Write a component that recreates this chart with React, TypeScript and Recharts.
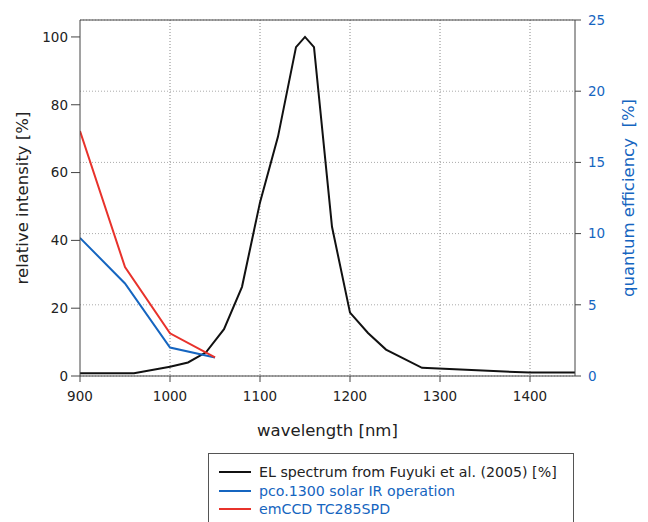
import React from 'react';
import { LineChart, Line, XAxis, YAxis, CartesianGrid, ReferenceLine, Legend, Label } from 'recharts';

const xTicks = [900, 1000, 1100, 1200, 1300, 1400];
const leftTicks = [0, 20, 40, 60, 80, 100];
const rightTicks = [0, 5, 10, 15, 20, 25];

const elWavelength = [900, 960, 1000, 1020, 1040, 1060, 1080, 1100, 1120, 1140, 1150, 1160, 1180, 1200, 1220, 1240, 1280, 1400, 1450];
const elIntensity = [0.8, 0.8, 2.7, 4.0, 7.0, 13.8, 26.3, 51.2, 70.6, 97.0, 100, 97.0, 44.0, 18.7, 12.7, 7.8, 2.4, 1.0, 1.0];

const qeWavelength = [900, 950, 1000, 1050];
const pcoQE = [9.7, 6.5, 2.0, 1.3];
const emccdQE = [17.2, 7.65, 3.0, 1.3];

const seriesNames = ['EL spectrum from Fuyuki et al. (2005) [%]', 'pco.1300 solar IR operation', 'emCCD TC285SPD'];

const BLACK = '#111111';
const BLUE = '#1565c0';
const RED = '#e8322b';
const FONT = '"DejaVu Sans", Verdana, sans-serif';

const elData = elWavelength.map((x, i) => ({ x, y: elIntensity[i] }));
const pcoData = qeWavelength.map((x, i) => ({ x, y: pcoQE[i] }));
const emData = qeWavelength.map((x, i) => ({ x, y: emccdQE[i] }));

const legendItems = [
  { name: seriesNames[0], color: BLACK, text: '#222' },
  { name: seriesNames[1], color: BLUE, text: BLUE },
  { name: seriesNames[2], color: RED, text: BLUE },
];

const LegendBox = () => (
  <div
    style={{
      border: '1px solid #555',
      background: '#fff',
      padding: '9px 10px 20px 10px',
      fontFamily: FONT,
      fontSize: 14.2,
      boxSizing: 'border-box',
      width: 366,
    }}
  >
    {legendItems.map((it) => (
      <div key={it.name} style={{ display: 'flex', alignItems: 'center', height: 18.5, whiteSpace: 'nowrap' }}>
        <svg width={32} height={4} style={{ marginRight: 8 }}>
          <line x1={0} y1={2} x2={32} y2={2} stroke={it.color} strokeWidth={2} />
        </svg>
        <span style={{ color: it.text }}>{it.name}</span>
      </div>
    ))}
  </div>
);

export default function App() {
  return (
    <div style={{ fontFamily: FONT }}>
      <LineChart
        width={640}
        height={514}
        margin={{ top: 12, right: 13, left: 12, bottom: 96 }}
      >
        <CartesianGrid
          yAxisId="right"
          vertical={false}
          stroke="#aaa"
          strokeDasharray="1 2"
        />
        <CartesianGrid
          yAxisId="right"
          horizontal={false}
          stroke="#888"
          strokeDasharray="1 2"
          verticalValues={[1000, 1100, 1200, 1300, 1400]}
        />
        <XAxis
          dataKey="x"
          type="number"
          domain={[900, 1450]}
          ticks={xTicks}
          allowDataOverflow
          height={50}
          tickSize={6}
          tickMargin={9}
          stroke="#444"
          tick={{ fill: '#222', fontSize: 13.5, fontFamily: FONT }}
        >
          <Label value="wavelength [nm]" position="center" dy={29} fill="#222" fontSize={16.5} fontFamily={FONT} />
        </XAxis>
        <YAxis
          yAxisId="left"
          orientation="left"
          type="number"
          domain={[0, 105]}
          ticks={leftTicks}
          width={60}
          tickSize={9}
          tickMargin={3}
          stroke="#444"
          tick={{ fill: '#222', fontSize: 13.5, fontFamily: FONT }}
        >
          <Label value="relative intensity [%]" angle={-90} position="center" dx={-28} fill="#222" fontSize={16.5} fontFamily={FONT} />
        </YAxis>
        <YAxis
          yAxisId="right"
          orientation="right"
          type="number"
          domain={[0, 25]}
          ticks={rightTicks}
          width={60}
          tickSize={6}
          tickMargin={7}
          stroke="#444"
          tick={{ fill: BLUE, fontSize: 13.5, fontFamily: FONT }}
        >
          <Label value={'quantum efficiency\u00a0\u00a0[%]'} angle={-90} position="center" dx={23} fill={BLUE} fontSize={16.5} fontFamily={FONT} />
        </YAxis>
        <ReferenceLine yAxisId="right" y={25} stroke="#444" />
        <Line
          yAxisId="left"
          data={elData}
          dataKey="y"
          name={seriesNames[0]}
          stroke={BLACK}
          strokeWidth={2}
          dot={false}
          isAnimationActive={false}
        />
        <Line
          yAxisId="right"
          data={pcoData}
          dataKey="y"
          name={seriesNames[1]}
          stroke={BLUE}
          strokeWidth={2}
          dot={false}
          isAnimationActive={false}
        />
        <Line
          yAxisId="right"
          data={emData}
          dataKey="y"
          name={seriesNames[2]}
          stroke={RED}
          strokeWidth={2}
          dot={false}
          isAnimationActive={false}
        />
        <Legend
          layout="vertical"
          align="center"
          verticalAlign="middle"
          content={<LegendBox />}
          wrapperStyle={{ position: 'absolute', left: 200, top: 445, width: 366, height: 'auto' }}
        />
      </LineChart>
    </div>
  );
}
